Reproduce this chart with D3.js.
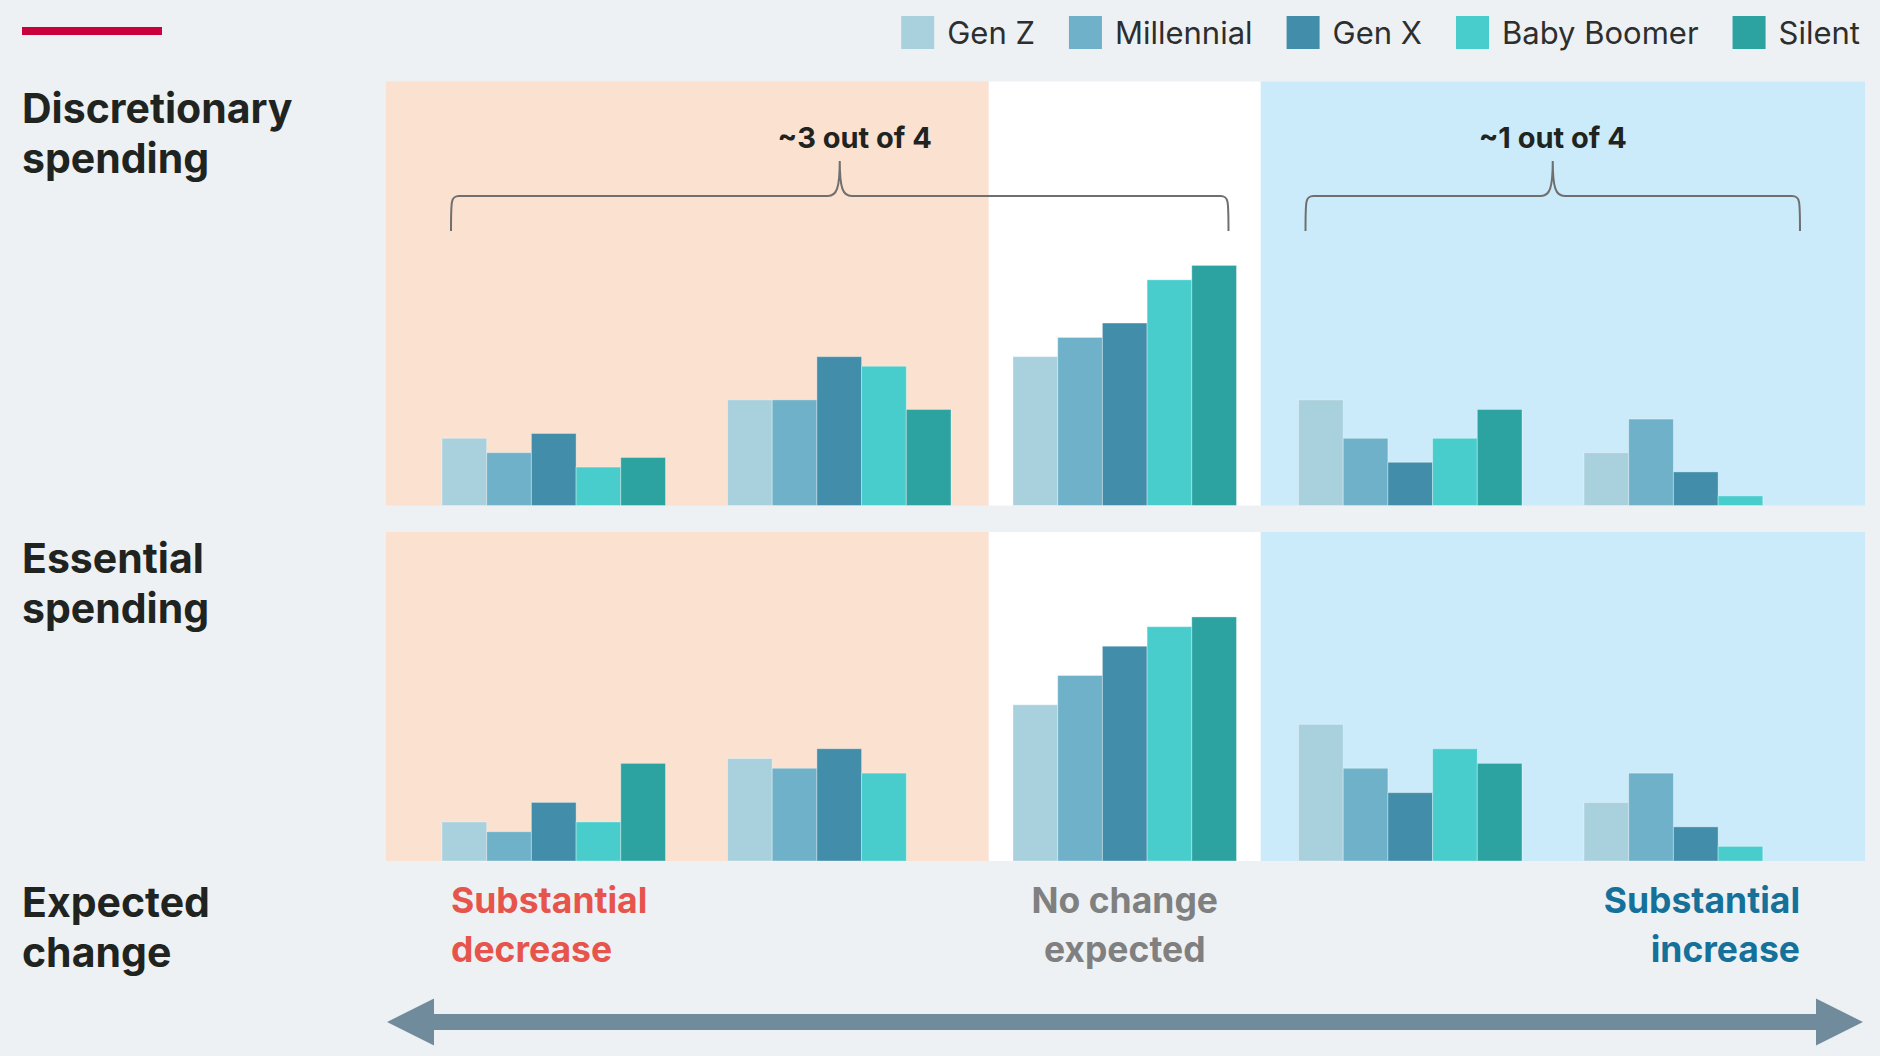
<!DOCTYPE html>
<html>
<head>
<meta charset="utf-8">
<script src="https://cdn.jsdelivr.net/npm/d3@7"></script>
<style>
  html, body { margin: 0; padding: 0; background: #edf1f4; }
  svg { display: block; }
  text { font-family: Inter, "Noto Sans", sans-serif; }
</style>
</head>
<body>
<script>
// ---- Data ----
const categories = ["Substantial decrease", "Decrease", "No change", "Increase", "Substantial increase"];
const series = ["Gen Z", "Millennial", "Gen X", "Baby Boomer", "Silent"];
const seriesColors = ["#a8d0dd", "#6eb1c8", "#428da9", "#48cccc", "#2ca2a1"];

// Discretionary spending, % of each generation by expected change
const discGenZ       = [14, 22, 31, 22, 11];
const discMillennial = [11, 22, 35, 14, 18];
const discGenX       = [15, 31, 38, 9, 7];
const discBoomer     = [8, 29, 47, 14, 2];
const discSilent     = [10, 20, 50, 20, 0];

// Essential spending
const essGenZ       = [8, 21, 32, 28, 12];
const essMillennial = [6, 19, 38, 19, 18];
const essGenX       = [12, 23, 44, 14, 7];
const essBoomer     = [8, 18, 48, 23, 3];
const essSilent     = [20, 0, 50, 20, 0];

const rowLabels = [["Discretionary", "spending"], ["Essential", "spending"]];
const bracketLabels = ["~3 out of 4", "~1 out of 4"];
const endLabels = [["Substantial", "decrease"], ["No change", "expected"], ["Substantial", "increase"]];

// ---- Setup ----
const W = 1880, H = 1056;
const svg = d3.select("body").append("svg").attr("width", W).attr("height", H);
svg.append("rect").attr("width", W).attr("height", H).attr("fill", "#edf1f4");

const dark = "#1f2421";

// red accent line
svg.append("rect").attr("x", 22).attr("y", 27).attr("width", 140).attr("height", 8).attr("fill", "#c8003c");

// scales
const x0 = d3.scaleBand().domain(categories).range([442, 1807.5]).paddingInner(0.2172).paddingOuter(0);
const x1 = d3.scaleBand().domain(series).range([0, x0.bandwidth()]);
const color = d3.scaleOrdinal().domain(series).range(seriesColors);

const panels = [
  { y: d3.scaleLinear().domain([0, 88.3]).range([505.5, 81.5]),
    data: [discGenZ, discMillennial, discGenX, discBoomer, discSilent] },
  { y: d3.scaleLinear().domain([0, 67.4]).range([861, 532]),
    data: [essGenZ, essMillennial, essGenX, essBoomer, essSilent] }
];

const leftEdge = x0(categories[0]) - 56;
const rightEdge = x0(categories[4]) + x0.bandwidth() + 57.5;
const midC = x0(categories[2]) + x0.bandwidth() / 2;
const whiteL = midC - 136, whiteR = midC + 136;

panels.forEach((p, pi) => {
  const [yb, yt] = p.y.range();
  const g = svg.append("g");
  g.append("rect").attr("x", leftEdge).attr("y", yt).attr("width", whiteL - leftEdge).attr("height", yb - yt).attr("fill", "#fae1d0");
  g.append("rect").attr("x", whiteL).attr("y", yt).attr("width", whiteR - whiteL).attr("height", yb - yt).attr("fill", "#ffffff");
  g.append("rect").attr("x", whiteR).attr("y", yt).attr("width", rightEdge - whiteR).attr("height", yb - yt).attr("fill", "#cbebfa");

  const rows = [];
  categories.forEach((c, ci) => {
    series.forEach((s, si) => {
      rows.push({ cat: c, ser: s, v: p.data[si][ci] });
    });
  });
  g.selectAll("rect.bar").data(rows.filter(d => d.v > 0)).join("rect")
    .attr("class", "bar")
    .attr("x", d => x0(d.cat) + x1(d.ser))
    .attr("width", x1.bandwidth())
    .attr("y", d => p.y(d.v))
    .attr("height", d => p.y(0) - p.y(d.v))
    .attr("fill", d => color(d.ser))
    .attr("stroke", "rgba(255,255,255,0.35)")
    .attr("stroke-width", 1);

  // row label
  const rl = svg.append("text").attr("x", 22).attr("y", pi === 0 ? 123 : 573)
    .attr("font-size", 41).attr("font-weight", 700).attr("fill", dark);
  rl.selectAll("tspan").data(rowLabels[pi]).join("tspan")
    .attr("x", 22).attr("dy", (d, i) => i === 0 ? 0 : 50).text(d => d);
});

// "Expected change" label
const ec = svg.append("text").attr("x", 22).attr("y", 917).attr("font-size", 41).attr("font-weight", 700).attr("fill", dark);
ec.selectAll("tspan").data(["Expected", "change"]).join("tspan")
  .attr("x", 22).attr("dy", (d, i) => i === 0 ? 0 : 50).text(d => d);

// legend (right aligned)
const legG = svg.append("g");
let legItems = [];
series.forEach((s, i) => {
  const t = legG.append("text").attr("y", 44).attr("font-size", 31).attr("font-weight", 400).attr("fill", "#2e2e2e").text(s);
  legItems.push({ s, t, w: t.node().getComputedTextLength() });
});
let cursor = 1860;
for (let i = legItems.length - 1; i >= 0; i--) {
  const it = legItems[i];
  const tx = cursor - it.w;
  it.t.attr("x", tx);
  legG.append("rect").attr("x", tx - 13 - 33).attr("y", 16).attr("width", 33).attr("height", 33).attr("fill", color(it.s));
  cursor = tx - 13 - 33 - 34;
}

// brackets
function bracket(xa, xb, yLine, yEnd, yTip) {
  const tip = (xa + xb) / 2;
  const r = 8;
  return `M${xa},${yEnd} C${xa},${yLine + 4} ${xa},${yLine} ${xa + r},${yLine} ` +
         `L${tip - 12},${yLine} C${tip - 3},${yLine} ${tip},${yLine - 8} ${tip},${yTip} ` +
         `C${tip},${yLine - 8} ${tip + 3},${yLine} ${tip + 12},${yLine} ` +
         `L${xb - r},${yLine} C${xb},${yLine} ${xb},${yLine + 4} ${xb},${yEnd}`;
}
const bL = [x0(categories[0]) + 9, x0(categories[2]) + x0.bandwidth() - 8];
const bR = [x0(categories[3]) + 7, x0(categories[4]) + x0.bandwidth() - 7.5];
[bL, bR].forEach((b, i) => {
  svg.append("path").attr("d", bracket(b[0], b[1], 196, 231, 161))
    .attr("fill", "none").attr("stroke", "#6f6f6f").attr("stroke-width", 2);
  const cx = (b[0] + b[1]) / 2 + (i === 0 ? 15 : 0);
  svg.append("text").attr("x", cx).attr("y", 148).attr("text-anchor", "middle")
    .attr("font-size", 29).attr("font-weight", 700).attr("fill", dark).text(bracketLabels[i]);
});

// end labels
const endCfg = [
  { x: bL[0], anchor: "start", color: "#e6544b" },
  { x: midC, anchor: "middle", color: "#808080" },
  { x: bR[1], anchor: "end", color: "#15709a" }
];
endLabels.forEach((lines, i) => {
  const t = svg.append("text").attr("y", 913).attr("font-size", 35.5).attr("font-weight", 700)
    .attr("fill", endCfg[i].color).attr("text-anchor", endCfg[i].anchor);
  t.selectAll("tspan").data(lines).join("tspan")
    .attr("x", endCfg[i].x).attr("dy", (d, j) => j === 0 ? 0 : 49).text(d => d);
});

// double arrow
const ax0 = leftEdge + 1, ax1 = rightEdge - 2, ay = 1022, sh = 8, hl = 47, hh = 23.5;
svg.append("path")
  .attr("d", `M${ax0},${ay} L${ax0 + hl},${ay - hh} L${ax0 + hl},${ay - sh} L${ax1 - hl},${ay - sh} L${ax1 - hl},${ay - hh} ` +
             `L${ax1},${ay} L${ax1 - hl},${ay + hh} L${ax1 - hl},${ay + sh} L${ax0 + hl},${ay + sh} L${ax0 + hl},${ay + hh} Z`)
  .attr("fill", "#708c9c");
</script>
</body>
</html>
